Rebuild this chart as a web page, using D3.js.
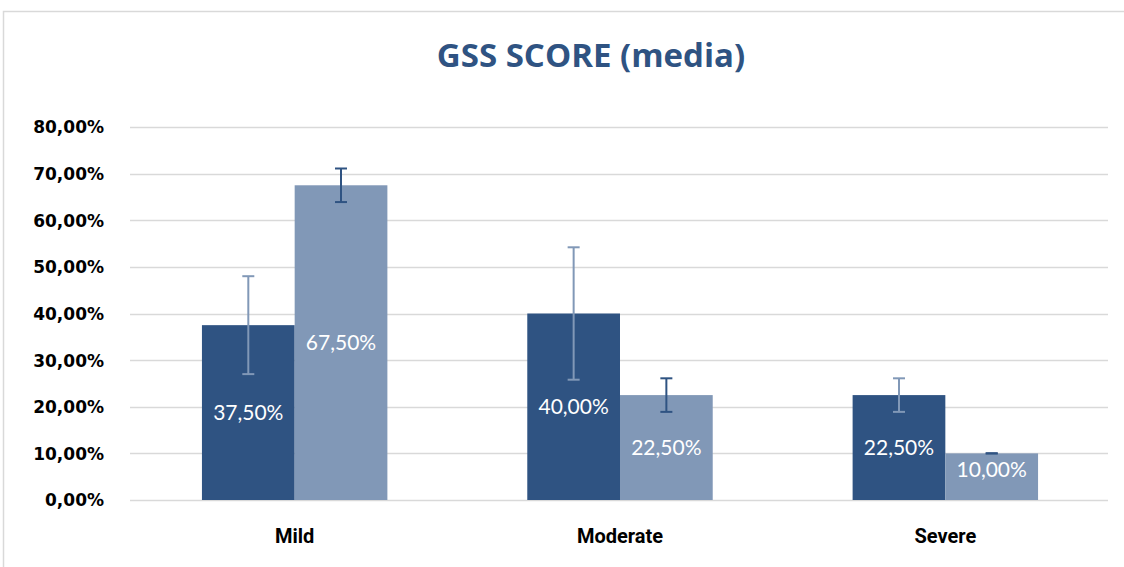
<!DOCTYPE html>
<html><head><meta charset="utf-8">
<script src="https://cdn.jsdelivr.net/npm/d3@7/dist/d3.min.js"></script>
<style>html,body{margin:0;padding:0;background:#fff;}svg{display:block;}</style>
</head><body>
<svg id="chart" width="1124" height="567"></svg>
<script>
const categories = ["Mild", "Moderate", "Severe"];
const seriesNames = ["A", "B"];
const seriesA = [37.5, 40.0, 22.5];
const seriesB = [67.5, 22.5, 10.0];
const errorA = [10.5, 14.2, 3.6];
const errorB = [3.6, 3.6, 0];
const yTicks = [0, 10, 20, 30, 40, 50, 60, 70, 80];
const title = "GSS SCORE (media)";

const colors = {A: "#2f5382", B: "#8198b7"};
const errColors = {A: "#8198b7", B: "#2f5382"};

const svg = d3.select("#chart");
// frame
svg.append("path").attr("d", "M3.5,567 L3.5,11.5 L1124,11.5")
  .attr("fill", "none").attr("stroke", "#d9d9d9").attr("stroke-width", 1.5);

const x0 = d3.scaleBand().domain(categories).range([132, 1108]).paddingInner(0.43).paddingOuter(0.215);
const x1 = d3.scaleBand().domain(seriesNames).range([0, x0.bandwidth()]).padding(0);
const y = d3.scaleLinear().domain([0, 80]).range([500, 127]);

const fmt = v => v.toFixed(2).replace(".", ",") + "%";

// gridlines
svg.append("g").selectAll("line").data(yTicks).join("line")
  .attr("x1", 130).attr("x2", 1108)
  .attr("y1", d => Math.round(y(d)) + 0.5).attr("y2", d => Math.round(y(d)) + 0.5)
  .attr("stroke", "#d9d9d9").attr("stroke-width", 1.5);

// y axis labels
const yAxis = d3.axisLeft(y).tickValues(yTicks).tickFormat(fmt).tickSize(0).tickPadding(0);
const ya = svg.append("g").attr("transform", "translate(104,0)").call(yAxis);
ya.select(".domain").remove();
ya.selectAll("text").attr("font-family", "'DejaVu Sans', sans-serif").attr("font-weight", 700)
  .attr("font-size", 17).attr("fill", "#000").attr("dy", "0.35em");

// x axis labels
const xAxis = d3.axisBottom(x0).tickSize(0).tickPadding(0);
const xa = svg.append("g").attr("transform", "translate(0,529)").call(xAxis);
xa.select(".domain").remove();
xa.selectAll("text").attr("font-family", "'Liberation Sans Narrow', 'Roboto', sans-serif").attr("font-weight", 700)
  .attr("font-size", 20).attr("fill", "#000").attr("dy", "0.7em");

const data = categories.map((c, i) => ({c, vals: [
  {k: "A", v: seriesA[i], e: errorA[i]},
  {k: "B", v: seriesB[i], e: errorB[i]}
]}));

const groups = svg.append("g").selectAll("g").data(data).join("g")
  .attr("transform", d => `translate(${x0(d.c)},0)`);

groups.selectAll("rect").data(d => d.vals).join("rect")
  .attr("x", d => x1(d.k)).attr("width", x1.bandwidth())
  .attr("y", d => y(d.v)).attr("height", d => y(0) - y(d.v))
  .attr("fill", d => colors[d.k]);

// error bars
const eb = groups.selectAll("g.err").data(d => d.vals).join("g").attr("class", "err")
  .attr("stroke", d => errColors[d.k]).attr("stroke-width", 2);
eb.append("line")
  .attr("x1", d => x1(d.k) + x1.bandwidth() / 2).attr("x2", d => x1(d.k) + x1.bandwidth() / 2)
  .attr("y1", d => y(d.v + d.e)).attr("y2", d => y(d.v - d.e));
eb.append("line")
  .attr("x1", d => x1(d.k) + x1.bandwidth() / 2 - 6).attr("x2", d => x1(d.k) + x1.bandwidth() / 2 + 6)
  .attr("y1", d => y(d.v + d.e)).attr("y2", d => y(d.v + d.e));
eb.append("line")
  .attr("x1", d => x1(d.k) + x1.bandwidth() / 2 - 6).attr("x2", d => x1(d.k) + x1.bandwidth() / 2 + 6)
  .attr("y1", d => y(d.v - d.e)).attr("y2", d => y(d.v - d.e));

// data labels
groups.selectAll("text.lbl").data(d => d.vals).join("text").attr("class", "lbl")
  .attr("x", d => x1(d.k) + x1.bandwidth() / 2)
  .attr("y", d => Math.min((y(d.v) + y(0)) / 2, y(0) - 30))
  .attr("text-anchor", "middle").attr("dy", "0.35em")
  .attr("font-family", "Lato, 'Open Sans', sans-serif").attr("font-size", 21)
  .attr("fill", "#fff").text(d => fmt(d.v));

// title
svg.append("text").attr("x", 591).attr("y", 67).attr("text-anchor", "middle")
  .attr("font-family", "'Open Sans', 'Noto Sans', sans-serif").attr("font-weight", 700)
  .attr("font-size", 33).attr("fill", "#2f5382").text(title);
</script>
</body></html>
